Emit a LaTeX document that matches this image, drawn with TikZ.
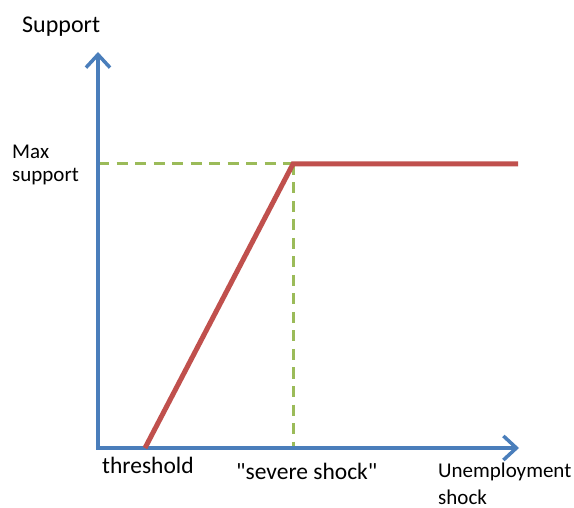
\documentclass[tikz,border=0pt]{standalone}
\usepackage{fontspec}
\setmainfont{Carlito}[Ligatures=TeXOff]
\usetikzlibrary{arrows.meta}
\definecolor{axisblue}{HTML}{4A7EBB}
\definecolor{curvered}{HTML}{C0504D}
\definecolor{guidegreen}{HTML}{9BBB59}
\begin{document}
\begin{tikzpicture}[x=1pt,y=-1pt,
  axis/.style={draw=axisblue,line width=3.5pt,-{Straight Barb[length=13pt,width=24pt,line width=3.5pt]}},
  curve/.style={draw=curvered,line width=5pt},
  guide/.style={draw=guidegreen,line width=3pt,dash pattern=on 11pt off 7.5pt},
  lab/.style={inner sep=0pt,anchor=base west,font=\fontsize{21}{25}\selectfont},
  biglab/.style={lab,font=\fontsize{23.5}{28}\selectfont}]
\useasboundingbox (0,0) rectangle (574,508);
\coordinate (O) at (98,448);
\coordinate (ytip) at (98,52);
\coordinate (xtip) at (519,448);
\coordinate (T) at (145,448);
\coordinate (K) at (293,164);
\coordinate (E) at (518,164);
\coordinate (Ky) at (98,164);
\coordinate (Kx) at (293,448);
\draw[guide] (Ky) -- (K);
\draw[guide] (K) -- (Kx);
\draw[axis] ([yshift=1.75pt]O) -- (ytip);
\draw[axis] ([xshift=-1.75pt]O) -- (xtip);
\draw[curve] (T) -- (K) -- (E);
\node[lab,font=\fontsize{24}{28}\selectfont] (sup) at (22,33) {Support};
\node[lab] (max) at (12,159) {Max};
\node[lab] (maxs) at (12,182) {support};
\node[biglab] (thr) at (102,473) {threshold};
\node[biglab] (sev) at (236,479) {"severe shock"};
\node[lab] (une) at (438,477) {Unemployment};
\node[lab] (sho) at (438,504) {shock};
\end{tikzpicture}
\end{document}
